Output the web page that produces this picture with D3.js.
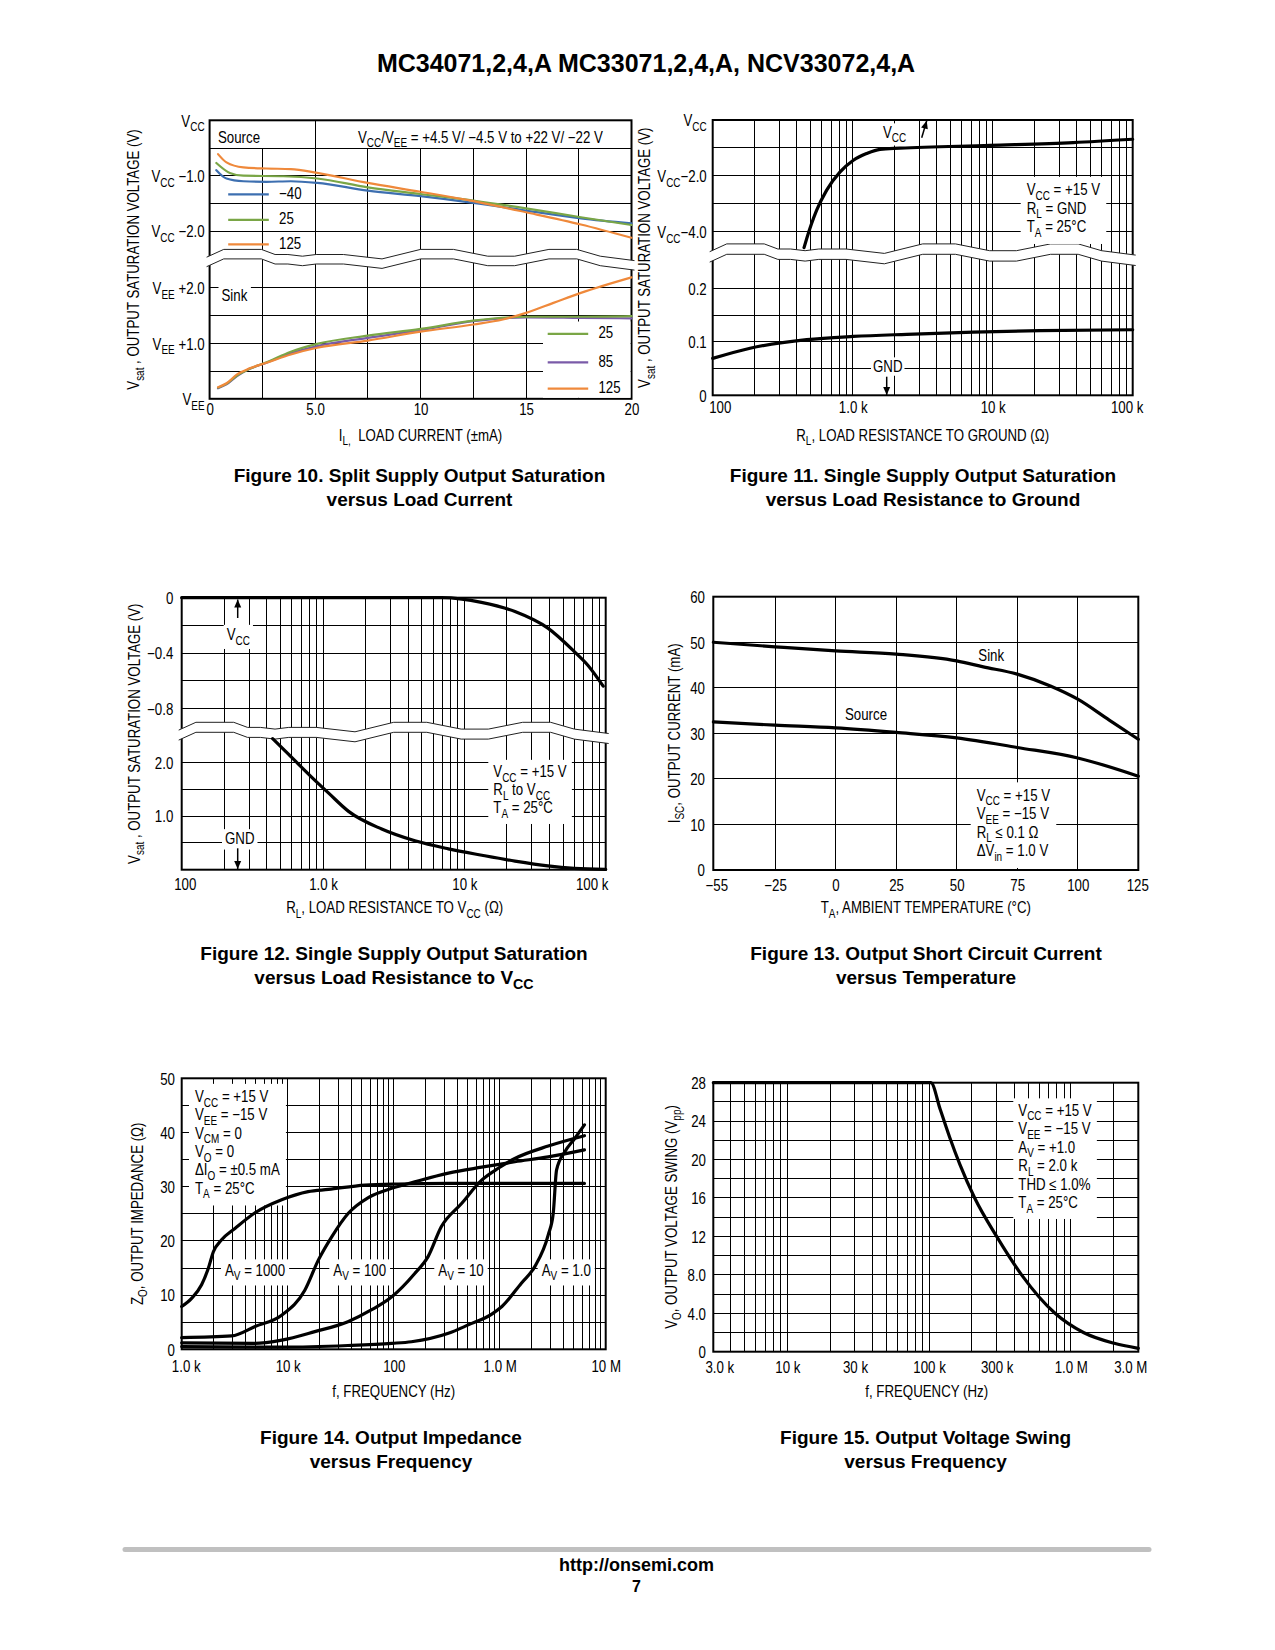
<!DOCTYPE html>
<html><head><meta charset="utf-8">
<script src="https://cdn.jsdelivr.net/npm/d3@7"></script>
<style>
body{margin:0;background:#fff;}
</style></head><body>
<svg id="page" width="1275" height="1650" xmlns="http://www.w3.org/2000/svg"></svg>
<script>
// ================= DATA =================
// Figure 10 – split supply output saturation vs load current (mA, V rel. to rail)
const f10_xTicks=[0,5,10,15,20];
const f10_xLabels=["0","5.0","10","15","20"];
const f10_srcTicks=[0,-1,-2];
const f10_srcLabels=["V_{CC}","V_{CC} −1.0","V_{CC} −2.0"];
const f10_sinkTicks=[2,1,0];
const f10_sinkLabels=["V_{EE} +2.0","V_{EE} +1.0","V_{EE}"];
const f10_srcNames=["−40","25","125"];
const f10_sinkNames=["25","85","125"];
const f10_src_m40=[[0.32,-0.90],[0.8,-1.05],[1.6,-1.10],[2.7,-1.11],[3.85,-1.10],[5.1,-1.13],[7.5,-1.27],[10,-1.37],[12.5,-1.49],[15,-1.63],[17.6,-1.77],[20,-1.86]];
const f10_src_25=[[0.32,-0.77],[0.96,-0.95],[1.6,-1.0],[3.5,-1.01],[5.1,-1.05],[7.5,-1.21],[10,-1.33],[12.5,-1.45],[15,-1.59],[17.6,-1.75],[20,-1.89]];
const f10_src_125=[[0.4,-0.61],[0.8,-0.76],[1.6,-0.85],[2.7,-0.87],[3.85,-0.88],[5.1,-0.95],[7.5,-1.13],[10,-1.29],[12.5,-1.46],[15,-1.66],[17.6,-1.88],[20,-2.12]];
const f10_sink_25=[[0.4,0.20],[0.8,0.27],[1.3,0.42],[1.9,0.54],[2.7,0.66],[3.85,0.85],[5.1,0.99],[7.5,1.14],[10,1.26],[12.5,1.41],[15,1.48],[17.6,1.48],[20,1.49]];
const f10_sink_85=[[0.4,0.19],[0.8,0.26],[1.3,0.41],[1.9,0.54],[2.7,0.65],[3.85,0.82],[5.1,0.95],[7.5,1.10],[10,1.24],[12.5,1.40],[15,1.47],[17.6,1.46],[20,1.45]];
const f10_sink_125=[[0.4,0.21],[0.8,0.28],[1.3,0.44],[1.9,0.55],[2.7,0.65],[3.85,0.80],[5.1,0.92],[7.5,1.05],[10,1.21],[12.5,1.34],[13.9,1.43],[15,1.55],[16.3,1.73],[17.6,1.91],[20,2.19]];

// Figure 11 – single supply, R_L to ground (ohm, V)
const f11_xTicks=[100,1000,10000,100000];
const f11_xLabels=["100","1.0 k","10 k","100 k"];
const f11_upTicks=[0,-2,-4];
const f11_upLabels=["V_{CC}","V_{CC}−2.0","V_{CC}−4.0"];
const f11_loTicks=[0.2,0.1,0];
const f11_loLabels=["0.2","0.1","0"];
const f11_vcc=[[449,-4.57],[469,-4.25],[553,-3.23],[652,-2.51],[813,-1.86],[1011,-1.44],[1259,-1.20],[1567,-1.05],[2178,-1.01],[9550,-0.91],[37600,-0.81],[100000,-0.69]];
const f11_gnd=[[100,0.069],[185,0.088],[469,0.104],[1011,0.110],[2432,0.114],[7280,0.118],[21800,0.121],[100000,0.1225]];

// Figure 12 – single supply, R_L to VCC (ohm, V)
const f12_xTicks=[100,1000,10000,100000];
const f12_xLabels=["100","1.0 k","10 k","100 k"];
const f12_upTicks=[0,-0.4,-0.8];
const f12_upLabels=["0","−0.4","−0.8"];
const f12_loTicks=[2,1];
const f12_loLabels=["2.0","1.0"];
const f12_vcc=[[100,0],[6900,0],[9600,-0.01],[13200,-0.034],[22800,-0.10],[39000,-0.22],[60000,-0.39],[75000,-0.49],[96000,-0.64]];
const f12_gnd=[[440,2.45],[569,2.16],[877,1.67],[1096,1.43],[1516,1.09],[2600,0.76],[4470,0.54],[7700,0.39],[13300,0.27],[22800,0.16],[39000,0.07],[60000,0.025],[100000,0.006]];

// Figure 13 – short circuit current vs temperature (°C, mA)
const f13_xTicks=[-55,-25,0,25,50,75,100,125];
const f13_xLabels=["−55","−25","0","25","50","75","100","125"];
const f13_yTicks=[0,10,20,30,40,50,60];
const f13_sink=[[-55,50],[-25,49.0],[0,48.1],[25,47.4],[50,45.9],[61,44.6],[75,43.0],[88.7,40.4],[100,37.5],[113,32.9],[125,28.7]];
const f13_source=[[-55,32.5],[-25,31.8],[0,31.2],[25,30.2],[50,29.0],[75,26.9],[100,24.6],[125,20.6]];

// Figure 14 – output impedance vs frequency (Hz, ohm)
const f14_xTicks=[1e3,1e4,1e5,1e6,1e7];
const f14_xLabels=["1.0 k","10 k","100","1.0 M","10 M"];
const f14_yTicks=[0,10,20,30,40,50];
const f14_av1000=[[1000,7.9],[1240,9.4],[1540,11.9],[1780,14.9],[1990,18.0],[2380,20.2],[3180,22.3],[4920,25.2],[8770,27.6],[15600,29.1],[24200,29.5],[53500,30.3],[110000,30.5],[328000,30.6],[1380000,30.6],[6300000,30.6]];
const f14_av100=[[1000,2.15],[2960,2.46],[4920,4.2],[8770,6.3],[14500,10.9],[19500,16.5],[26100,20.8],[37300,25.1],[57600,28.0],[95700,29.7],[158000,30.9],[328000,32.5],[676000,33.6],[1390000,34.6],[2870000,35.5],[6300000,36.8]];
const f14_av10=[[1000,1.2],[4900,1.1],[8800,1.7],[18000,3.26],[37000,5.1],[62000,7.3],[96000,9.7],[158000,14.0],[211000,17.1],[281000,22.6],[437000,26.9],[676000,31.2],[969000,33.4],[1390000,35.2],[2870000,37.5],[6300000,39.4]];
const f14_av1=[[1000,0.5],[8800,0.4],[37000,0.7],[96000,1.1],[147000,1.4],[328000,2.95],[505000,4.5],[842000,6.5],[1050000,7.9],[1600000,12.2],[2150000,15.3],[2870000,21.1],[3200000,25.1],[3440000,33.1],[4130000,36.5],[5100000,38.9],[6300000,41.4]];
const f14_names=["A_{V} = 1000","A_{V} = 100","A_{V} = 10","A_{V} = 1.0"];

// Figure 15 – output voltage swing vs frequency (Hz, Vpp)
const f15_xTicks=[3e3,1e4,3e4,1e5,3e5,1e6,3e6];
const f15_xLabels=["3.0 k","10 k","30 k","100 k","300 k","1.0 M","3.0 M"];
const f15_yTicks=[0,4,8,12,16,20,24,28];
const f15_yLabels=["0","4.0","8.0","12","16","20","24","28"];
const f15_swing=[[3000,28],[103000,28],[120000,25.2],[140000,22.3],[165000,19.5],[210000,16],[300000,12],[450000,8],[775000,4],[1230000,2],[2000000,0.9],[3000000,0.35]];

// ================= DRAWING =================
const FONT='"Liberation Sans",Arial,Helvetica,sans-serif';
const BFONT='"Liberation Sans",Arial,Helvetica,sans-serif';
const FS=16, LH=18.5, SX=0.83;
const svg=d3.select('#page');
svg.append('rect').attr('width',1275).attr('height',1650).attr('fill','#fff');

function rich(t,str,fs){
  t.text(null);
  const parts=str.split(/(_\{[^}]*\})/).filter(s=>s.length);
  let sh=false;
  for(const p of parts){
    if(p.startsWith('_{')){
      t.append('tspan').attr('dy',fs*0.3).attr('font-size',fs*0.75).text(p.slice(2,-1));
      sh=true;
    } else {
      const ts=t.append('tspan').text(p);
      if(sh){ts.attr('dy',-fs*0.3);sh=false;}
    }
  }
  return t;
}
function txt(g,x,y,str,o={}){
  const fs=o.fs||FS;
  let tr=`translate(${x},${y})`;
  if(o.rotate) tr+=' rotate(-90)';
  if(!o.wide) tr+=` scale(${SX},1)`;
  const t=g.append('text').attr('x',0).attr('y',0).attr('transform',tr).attr('font-size',fs)
    .attr('text-anchor',o.anchor||'start').style('white-space','pre')
    .attr('font-family',o.family||FONT).attr('font-weight',o.weight||'normal').attr('fill','#000');
  rich(t,str,fs);
  return t;
}
function boxed(g,x,y,lines,o={}){
  const grp=g.append('g');
  const tg=grp.append('g');
  lines.forEach((s,i)=>txt(tg,x,y+i*(o.lh||LH),s,o));
  const b=tg.node().getBBox();
  const p=o.pad==null?4:o.pad;
  grp.insert('rect',':first-child').attr('x',b.x-p).attr('y',b.y-p+2).attr('width',b.width+2*p).attr('height',b.height+2*p-3).attr('fill','#fff');
  return grp;
}
function vgrid(g,vals,xS,y0,y1){
  g.append('g').selectAll('line').data(vals).join('line')
    .attr('x1',d=>xS(d)).attr('x2',d=>xS(d)).attr('y1',y0).attr('y2',y1)
    .attr('stroke','#000').attr('stroke-width',1).attr('shape-rendering','crispEdges');
}
function hgrid(g,vals,yS,x0,x1){
  g.append('g').selectAll('line').data(vals).join('line')
    .attr('y1',d=>yS(d)).attr('y2',d=>yS(d)).attr('x1',x0).attr('x2',x1)
    .attr('stroke','#000').attr('stroke-width',1).attr('shape-rendering','crispEdges');
}
function border(g,x0,x1,y0,y1){
  g.append('rect').attr('x',x0).attr('y',y0).attr('width',x1-x0).attr('height',y1-y0)
    .attr('fill','none').attr('stroke','#000').attr('stroke-width',2);
}
function xAxis(g,xS,y,vals,labels,dx0=0,dx1=0){
  const ax=d3.axisBottom(xS).tickValues(vals).tickFormat((d,i)=>labels[i]).tickSize(0).tickPadding(0);
  const a=g.append('g').attr('transform',`translate(0,${y})`).call(ax);
  a.select('.domain').remove();
  const n=vals.length;
  a.selectAll('text').attr('font-size',FS).attr('font-family',FONT).attr('fill','#000')
    .attr('y',0).attr('dy',0).style('white-space','pre')
    .attr('transform',(d,i)=>`translate(${i===0?dx0:(i===n-1?dx1:0)},0) scale(${SX},1)`);
}
function yAxis(g,yS,x,vals,labels){
  const ax=d3.axisLeft(yS).tickValues(vals).tickFormat((d,i)=>labels[i]).tickSize(0).tickPadding(0);
  const a=g.append('g').attr('transform',`translate(${x},0)`).call(ax);
  a.select('.domain').remove();
  a.selectAll('text').attr('font-size',FS).attr('font-family',FONT).attr('fill','#000')
    .attr('x',0).attr('dy','0.36em').style('white-space','pre').attr('transform',`scale(${SX},1)`)
    .each(function(d,i){rich(d3.select(this),labels[i],FS);});
}
function curve(g,data,xS,yS,color,w){
  g.append('path').datum(data).attr('fill','none').attr('stroke',color).attr('stroke-width',w)
    .attr('stroke-linejoin','round').attr('stroke-linecap','round')
    .attr('d',d3.line().x(d=>xS(d[0])).y(d=>yS(d[1])).curve(d3.curveMonotoneX));
}
const WAVE=[[0,3.4],[0.04,-4.4],[0.128,-4.4],[0.16,0.7],[0.19,0.7],[0.224,2.4],[0.256,0.7],[0.32,0.7],[0.41,5.1],[0.5,-4.4],[0.577,-4.4],[0.657,2.4],[0.72,2.4],[0.8,-4.4],[0.865,-4.4],[0.92,2.4],[1,6.8]];
function band(g,x0,x1,yc,gap){
  const fx=f=>x0-3+(x1-x0+6)*f;
  const top=WAVE.map(([f,o])=>[fx(f),yc+o]);
  const bot=WAVE.map(([f,o])=>[fx(f),yc+o+gap]);
  g.append('path').attr('d',d3.line()(top.concat(bot.slice().reverse()))+'Z').attr('fill','#fff');
  [top,bot].forEach(p=>g.append('path').attr('d',d3.line()(p)).attr('fill','none').attr('stroke','#222').attr('stroke-width',1));
}
function arrow(g,x1,y1,x2,y2){
  g.append('line').attr('x1',x1).attr('y1',y1).attr('x2',x2).attr('y2',y2).attr('stroke','#000').attr('stroke-width',1.5);
  const a=Math.atan2(y2-y1,x2-x1), L=8, W=3.5;
  const bx=x2-L*Math.cos(a), by=y2-L*Math.sin(a);
  const px=-Math.sin(a)*W, py=Math.cos(a)*W;
  g.append('path').attr('d',`M${x2},${y2}L${bx+px},${by+py}L${bx-px},${by-py}Z`).attr('fill','#000');
}
function logGrid(lo,hi){
  const out=[];
  for(let e=Math.floor(Math.log10(lo));e<=Math.ceil(Math.log10(hi));e++)
    for(let m=1;m<=9;m++){const v=m*Math.pow(10,e); if(v>=lo*0.999&&v<=hi*1.001) out.push(v);}
  return out;
}
function yTitle(g,x,yc,str){ txt(g,x,yc,str,{anchor:'middle',rotate:true}); }
function xTitle(g,xc,y,str){ txt(g,xc,y,str,{anchor:'middle'}); }
function caption(cx,y,l1,l2){
  txt(svg,cx,y,l1,{fs:19,anchor:'middle',family:BFONT,weight:'bold',wide:true});
  txt(svg,cx,y+23.5,l2,{fs:19,anchor:'middle',family:BFONT,weight:'bold',wide:true});
}

// ---------- header ----------
txt(svg,646,71.5,"MC34071,2,4,A MC33071,2,4,A, NCV33072,4,A",{fs:25,anchor:'middle',family:BFONT,weight:'bold',wide:true});

// ---------- Figure 10 ----------
(function(){
  const g=svg.append('g');
  const L=209.6,R=631.5,T=120.3,B=398.8;
  const x=d3.scaleLinear().domain([0,20]).range([L,R]);
  const yU=d3.scaleLinear().domain([0,-2]).range([T,231.1]);
  const yL=d3.scaleLinear().domain([0,2]).range([B,287.9]);
  const vg=d3.range(0,20.01,2.5);
  vgrid(g,vg.filter(v=>v!==5),x,yU(-0.5),B);
  vgrid(g,[5],x,T,B);
  hgrid(g,[0,-0.5,-1,-1.5,-2],yU,L,R);
  hgrid(g,[0,0.5,1,1.5,2],yL,L,R);
  border(g,L,R,T,B);
  band(g,L,R,253.8,9.5);
  txt(g,218,143,"Source");
  txt(g,358,142.5,"V_{CC}/V_{EE} = +4.5 V/ −4.5 V to +22 V/ −22 V");
  boxed(g,221.5,300.5,["Sink"],{pad:3});
  const srcCols=["#3d6fb0","#7aa646","#ef893b"];
  const sinkCols=["#7aa646","#7a5ba8","#ef893b"];
  [f10_src_m40,f10_src_25,f10_src_125].forEach((d,i)=>curve(g,d,x,yU,srcCols[i],2.2));
  [f10_sink_85,f10_sink_25,f10_sink_125].forEach((d,i)=>curve(g,d,x,yL,[sinkCols[1],sinkCols[0],sinkCols[2]][i],2.2));
  // legends
  const lg1=[194.3,219.8,244.3];
  f10_srcNames.forEach((n,i)=>{
    g.append('line').attr('x1',228.2).attr('x2',268.8).attr('y1',lg1[i]).attr('y2',lg1[i]).attr('stroke',srcCols[i]).attr('stroke-width',2.2);
    txt(g,279,lg1[i]+4.5,n);
  });
  const lg2=[333.9,362.3,388.7];
  const lgG=g.append('g');
  lgG.append('rect').attr('x',543).attr('y',321.5).attr('width',R-1-543).attr('height',B-1-321.5).attr('fill','#fff');
  f10_sinkNames.forEach((n,i)=>{
    lgG.append('line').attr('x1',547.7).attr('x2',588.2).attr('y1',lg2[i]).attr('y2',lg2[i]).attr('stroke',sinkCols[i]).attr('stroke-width',2.2);
    txt(lgG,598.4,lg2[i]+4.5,n);
  });
  xAxis(g,x,415,f10_xTicks,f10_xLabels);
  yAxis(g,yU,204.6,f10_srcTicks,f10_srcLabels);
  yAxis(g,yL,204.6,f10_sinkTicks,f10_sinkLabels);
  yTitle(g,139,259.5,"V_{sat} , OUTPUT SATURATION VOLTAGE (V)");
  xTitle(g,420.5,440.5,"I_{L,}  LOAD CURRENT (±mA)");
})();

// ---------- Figure 11 ----------
(function(){
  const g=svg.append('g');
  const L=712.7,R=1132.7,T=120,B=395.3;
  const x=d3.scaleLog().domain([100,100000]).range([L,R]);
  const yU=d3.scaleLinear().domain([0,-4]).range([T,231.7]);
  const yL=d3.scaleLinear().domain([0,0.2]).range([B,288.3]);
  vgrid(g,logGrid(100,100000),x,T,B);
  hgrid(g,[0,-1,-2,-3,-4],yU,L,R);
  hgrid(g,[0,0.05,0.1,0.15,0.2],yL,L,R);
  border(g,L,R,T,B);
  band(g,L,R,248.3,10.4);
  boxed(g,1026.7,195,["V_{CC} = +15 V","R_{L} = GND","T_{A} = 25°C"],{pad:6});
  boxed(g,883,137.5,["V_{CC}"],{pad:2});
  arrow(g,921.7,137.7,926.7,120.7);
  boxed(g,873,371.5,["GND"],{pad:2});
  arrow(g,886.7,376.7,886.7,395);
  curve(g,f11_vcc,x,yU,"#000",3.2);
  curve(g,f11_gnd,x,yL,"#000",3.2);
  xAxis(g,x,413.3,f11_xTicks,f11_xLabels,7,-6);
  yAxis(g,yU,706.7,f11_upTicks,f11_upLabels);
  yAxis(g,yL,706.7,f11_loTicks,f11_loLabels);
  yTitle(g,650,257.7,"V_{sat} , OUTPUT SATURATION VOLTAGE (V)");
  xTitle(g,922.7,440.5,"R_{L}, LOAD RESISTANCE TO GROUND (Ω)");
})();

// ---------- Figure 12 ----------
(function(){
  const g=svg.append('g');
  const L=181.7,R=605.7,T=597.7,B=869.7;
  const x=d3.scaleLog().domain([100,100000]).range([L,R]);
  const yU=d3.scaleLinear().domain([0,-0.8]).range([T,708.3]);
  const yL=d3.scaleLinear().domain([0,2]).range([B,762.7]);
  vgrid(g,logGrid(100,100000),x,T,B);
  hgrid(g,[0,-0.2,-0.4,-0.6,-0.8],yU,L,R);
  hgrid(g,[0,0.5,1,1.5,2],yL,L,R);
  border(g,L,R,T,B);
  band(g,L,R,726.7,10);
  boxed(g,493.3,777,["V_{CC} = +15 V","R_{L} to V_{CC}","T_{A} = 25°C"],{pad:5,lh:18});
  boxed(g,226.7,640,["V_{CC}"],{pad:3});
  arrow(g,237.7,618,237.7,599.5);
  boxed(g,225,844.3,["GND"],{pad:3});
  arrow(g,237.7,848.3,237.7,869);
  curve(g,f12_vcc,x,yU,"#000",3.2);
  curve(g,f12_gnd,x,yL,"#000",3.2);
  xAxis(g,x,890,f12_xTicks,f12_xLabels,3,-14);
  yAxis(g,yU,173.3,f12_upTicks,f12_upLabels);
  yAxis(g,yL,173.3,f12_loTicks,f12_loLabels);
  yTitle(g,139.5,733.7,"V_{sat} , OUTPUT SATURATION VOLTAGE (V)");
  xTitle(g,394.7,913.3,"R_{L}, LOAD RESISTANCE TO V_{CC} (Ω)");
})();

// ---------- Figure 13 ----------
(function(){
  const g=svg.append('g');
  const L=713.3,R=1138.3,T=596.7,B=870;
  const x=d3.scaleLinear().domain([-55,-25,125]).range([L,775,R]);
  const y=d3.scaleLinear().domain([0,60]).range([B,T]);
  vgrid(g,f13_xTicks,x,T,B);
  hgrid(g,f13_yTicks,y,L,R);
  border(g,L,R,T,B);
  boxed(g,976.7,800.5,["V_{CC} = +15 V","V_{EE} = −15 V","R_{L} ≤ 0.1 Ω","ΔV_{in} = 1.0 V"],{pad:6});
  txt(g,978.3,661,"Sink");
  txt(g,845,720,"Source");
  curve(g,f13_sink,x,y,"#000",3.2);
  curve(g,f13_source,x,y,"#000",3.2);
  xAxis(g,x,891,f13_xTicks,f13_xLabels,3,-1);
  yAxis(g,y,705,f13_yTicks,f13_yTicks.map(String));
  yTitle(g,679.5,733.3,"I_{SC}, OUTPUT CURRENT (mA)");
  xTitle(g,925.8,913.3,"T_{A}, AMBIENT TEMPERATURE (°C)");
})();

// ---------- Figure 14 ----------
(function(){
  const g=svg.append('g');
  const L=181.7,R=605.7,T=1078.3,B=1349.3;
  const x=d3.scaleLog().domain([1e3,1e7]).range([L,R]);
  const y=d3.scaleLinear().domain([0,50]).range([B,T]);
  vgrid(g,logGrid(1e3,1e7),x,T,B);
  hgrid(g,d3.range(0,50.1,5),y,L,R);
  border(g,L,R,T,B);
  boxed(g,195,1102,["V_{CC} = +15 V","V_{EE} = −15 V","V_{CM} = 0","V_{O} = 0","ΔI_{O} = ±0.5 mA","T_{A} = 25°C"],{pad:6,lh:18.3});
  const lx=[225,333.3,438.3,541.7];
  f14_names.forEach((n,i)=>boxed(g,lx[i],1275.5,[n],{pad:4}));
  [f14_av1000,f14_av100,f14_av10,f14_av1].forEach(d=>curve(g,d,x,y,"#000",3.2));
  xAxis(g,x,1371.7,f14_xTicks,f14_xLabels,4,0);
  yAxis(g,y,175,f14_yTicks,f14_yTicks.map(String));
  yTitle(g,142.5,1213.8,"Z_{O}, OUTPUT IMPEDANCE (Ω)");
  xTitle(g,393.7,1397.3,"f, FREQUENCY (Hz)");
})();

// ---------- Figure 15 ----------
(function(){
  const g=svg.append('g');
  const L=713.3,R=1138.3,T=1082.7,B=1351.7;
  const x=d3.scaleLog().domain([3e3,3e6]).range([L,R]);
  const y=d3.scaleLinear().domain([0,28]).range([B,T]);
  vgrid(g,logGrid(3e3,3e6),x,T,B);
  hgrid(g,d3.range(0,28.1,2),y,L,R);
  border(g,L,R,T,B);
  boxed(g,1018.3,1115.5,["V_{CC} = +15 V","V_{EE} = −15 V","A_{V} = +1.0","R_{L} = 2.0 k","THD ≤ 1.0%","T_{A} = 25°C"],{pad:5});
  curve(g,f15_swing,x,y,"#000",3.2);
  xAxis(g,x,1373.3,f15_xTicks,f15_xLabels,6,-8);
  yAxis(g,y,706,f15_yTicks,f15_yLabels);
  yTitle(g,676.5,1217,"V_{O}, OUTPUT VOLTAGE SWING (V_{pp})");
  xTitle(g,926.7,1397.3,"f, FREQUENCY (Hz)");
})();

// ---------- captions ----------
caption(419.5,482,"Figure 10. Split Supply Output Saturation","versus Load Current");
caption(923,482,"Figure 11. Single Supply Output Saturation","versus Load Resistance to Ground");
caption(394,960,"Figure 12. Single Supply Output Saturation","versus Load Resistance to V_{CC}");
caption(926,960,"Figure 13. Output Short Circuit Current","versus Temperature");
caption(391,1444,"Figure 14. Output Impedance","versus Frequency");
caption(925.6,1444,"Figure 15. Output Voltage Swing","versus Frequency");

// ---------- footer ----------
svg.append('line').attr('x1',125).attr('x2',1149).attr('y1',1549.5).attr('y2',1549.5)
  .attr('stroke','#c0c0c0').attr('stroke-width',5).attr('stroke-linecap','round');
txt(svg,636.5,1571,"http://onsemi.com",{fs:18,anchor:'middle',family:BFONT,weight:'bold',wide:true});
txt(svg,636.5,1592,"7",{fs:16,anchor:'middle',family:BFONT,weight:'bold',wide:true});
</script>
</body></html>
